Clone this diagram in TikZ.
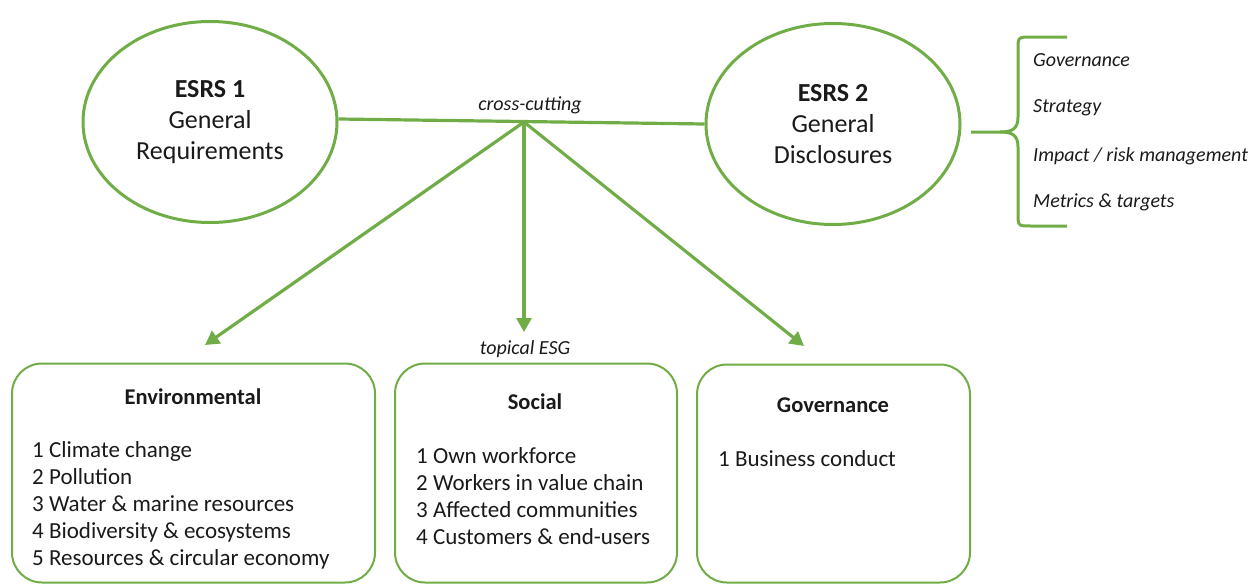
\documentclass[tikz,border=0pt]{standalone}
\usepackage{fontspec}
\setmainfont{Carlito}
\usetikzlibrary{arrows.meta,shapes.geometric}
\definecolor{esgreen}{HTML}{70AD47}
\definecolor{txt}{HTML}{1A1A1A}
\tikzset{
  ell/.style={draw=esgreen, line width=3pt, ellipse, minimum width=254pt, minimum height=201pt, inner sep=0pt, align=center, text=txt, font=\fontsize{26}{31}\selectfont},
  conn/.style={draw=esgreen, line width=3.2pt},
  arr/.style={conn, -{Triangle[length=14pt,width=15pt]}},
  topicbox/.style={draw=esgreen, line width=2pt, rounded corners=30pt, inner sep=0pt},
  boxtitle/.style={font=\bfseries\fontsize{22.5}{27}\selectfont, text=txt},
  items/.style={align=left, anchor=west, inner sep=0pt, text=txt, font=\fontsize{23}{27}\selectfont},
  lab/.style={font=\itshape\fontsize{20}{24}\selectfont, text=txt, inner sep=0pt},
  brlab/.style={lab, anchor=west}
}
\begin{document}
\begin{tikzpicture}[x=1pt,y=-1pt]
\useasboundingbox (0,0) rectangle (1259,584);
% ellipses
\node[ell] (e1) at (210,122) {\textbf{ESRS 1}\\General\\Requirements};
\node[ell] (e2) at (833,124) {\textbf{ESRS 2}\\General\\Disclosures};
% cross-cutting line
\draw[conn] ([yshift=3pt]e1.east) -- (e2.west);
\coordinate (hub) at (524,122);
\node[lab] (cc) at (530,105) {cross-cutting};
% boxes
\node[topicbox, minimum width=363pt, minimum height=219pt] (env) at (193.5,473) {};
\node[topicbox, minimum width=282pt, minimum height=219pt] (soc) at (536,473) {};
\node[topicbox, minimum width=273pt, minimum height=218pt] (gov) at (833.5,473.5) {};
% arrow targets
\coordinate (tE) at (205,345);
\coordinate (tS) at (524,332);
\coordinate (tG) at (804,346);
\draw[arr] (hub) -- (tE);
\draw[arr] (hub) -- (tS);
\draw[arr] (hub) -- (tG);
\node[lab] (top) at (525,349) {topical ESG};
% box contents
\node[boxtitle] (envt) at (193,397) {Environmental};
\node[items] (envi) at (32,505) {1 Climate change\\2 Pollution\\3 Water \& marine resources\\4 Biodiversity \& ecosystems\\5 Resources \& circular economy};
\node[boxtitle] (soct) at (535,402) {Social};
\node[items] (soci) at (416,496.5) {1 Own workforce\\2 Workers in value chain\\3 Affected communities\\4 Customers \& end-users};
\node[boxtitle] (govt) at (833,405) {Governance};
\node[items] (govi) at (718,459) {1 Business conduct};
% brace
\draw[conn, line width=3pt] (1067,37) -- (1031,37) .. controls (1018,37) and (1018,37) .. (1018,50) -- (1018,117)
  .. controls (1018,129) and (1012,132) .. (1000,132) -- (971,132);
\draw[conn, line width=3pt] (1000,132) .. controls (1012,132) and (1018,135) .. (1018,147) -- (1018,213)
  .. controls (1018,226) and (1018,226) .. (1031,226) -- (1067,226);
\node[brlab] (b1) at (1033,60) {Governance};
\node[brlab] (b2) at (1033,108) {Strategy};
\node[brlab] (b3) at (1033,156) {Impact / risk management};
\node[brlab] (b4) at (1033,202) {Metrics \& targets};
\end{tikzpicture}
\end{document}
